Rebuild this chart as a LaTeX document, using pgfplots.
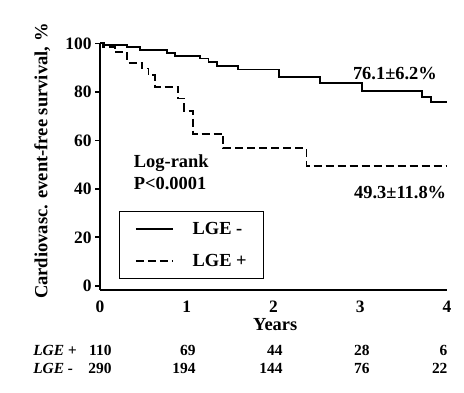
\documentclass[border=0pt]{standalone}
\usepackage{fontspec}
\setmainfont{Liberation Serif}
\usepackage{pgfplots}
\pgfplotsset{compat=1.18}
\newcommand{\tickf}{\fontsize{17.5}{20}\selectfont\bfseries}
\newcommand{\bigf}{\fontsize{18.5}{21}\selectfont\bfseries}
\newcommand{\labf}{\fontsize{18.6}{21}\selectfont\bfseries}
\newcommand{\smf}{\fontsize{15.5}{18}\selectfont\bfseries}
\begin{document}
\begin{tikzpicture}
\begin{axis}[
  x=86.75bp, y=2.424bp,
  xmin=0, xmax=4, ymin=-1.65, ymax=100,
  axis x line=bottom, axis y line=left,
  axis line style={-, line width=1.8bp, black},
  xtick={0,1,2,3,4}, ytick={0,20,40,60,80,100},
  tick align=outside, major tick length=5bp,
  ytick style={line width=1.6bp, black},
  xtick style={draw=none},
  ticklabel style={font=\tickf},
  xticklabel style={yshift=-3bp},
  /pgf/number format/assume math mode=true,
  clip=false,
  legend style={at={(0.0555,0.320)}, anchor=north west, draw=black, line width=1.2bp,
    inner xsep=15bp, inner ysep=9bp, row sep=14bp, column sep=17bp,
    font=\bigf, cells={anchor=west}},
  legend image code/.code={\draw[#1] (0bp,0bp) -- (37bp,0bp);},
]
\addplot[const plot, black, line width=1.8bp] coordinates {
 (0,100) (0.05,99.3) (0.31,98.6) (0.46,97.2) (0.77,95.9) (0.86,94.9) (1.15,93.8)
 (1.25,92.4) (1.345,90.7) (1.59,89.2) (2.06,86.0) (2.54,83.7) (3.02,80.4)
 (3.71,78.0) (3.82,75.9) (4.0,75.9)};
\addlegendentry{LGE -}
\addplot[const plot, black, line width=1.8bp, dash pattern=on 8bp off 4bp] coordinates {
 (0,100) (0.03,98.6) (0.17,96.4) (0.31,92.0) (0.48,89.6) (0.56,86.9) (0.63,82.1)
 (0.90,77.3) (0.97,72.2) (1.07,62.7) (1.42,56.7) (2.38,49.5) (4.0,49.5)};
\addlegendentry{LGE +}
\node[font=\bigf] at (axis cs:3.40,87.6) {76.1±6.2\%};
\node[font=\bigf] at (axis cs:3.46,38.5) {49.3±11.8\%};
\node[font=\bigf, anchor=west] at (axis cs:0.35,50.7) {Log-rank};
\node[font=\bigf, anchor=west] at (axis cs:0.35,42.2) {P<0.0001};
\node[font=\bigf] at (axis cs:2.02,-16.2) {Years};
\node[font=\labf, rotate=90] at (axis cs:-0.665,51.4) {Cardiovasc. event-free survival, \%};
\node[font=\smf\itshape, anchor=base west] at (axis cs:-0.81,-28.6) {LGE +};
\node[font=\smf\itshape, anchor=base west] at (axis cs:-0.81,-36.0) {LGE -};
\node[font=\smf, anchor=base east] at (axis cs:0.173,-28.6) {110};
\node[font=\smf, anchor=base east] at (axis cs:1.141,-28.6) {69};
\node[font=\smf, anchor=base east] at (axis cs:2.144,-28.6) {44};
\node[font=\smf, anchor=base east] at (axis cs:3.147,-28.6) {28};
\node[font=\smf, anchor=base east] at (axis cs:4.046,-28.6) {6};
\node[font=\smf, anchor=base east] at (axis cs:0.173,-36.0) {290};
\node[font=\smf, anchor=base east] at (axis cs:1.141,-36.0) {194};
\node[font=\smf, anchor=base east] at (axis cs:2.144,-36.0) {144};
\node[font=\smf, anchor=base east] at (axis cs:3.147,-36.0) {76};
\node[font=\smf, anchor=base east] at (axis cs:4.046,-36.0) {22};
\coordinate (bl) at (axis cs:-1.153,-43.85);
\coordinate (tr) at (axis cs:4.196,117.9);
\end{axis}
\pgfresetboundingbox
\path (bl) rectangle (tr);
\end{tikzpicture}
\end{document}
